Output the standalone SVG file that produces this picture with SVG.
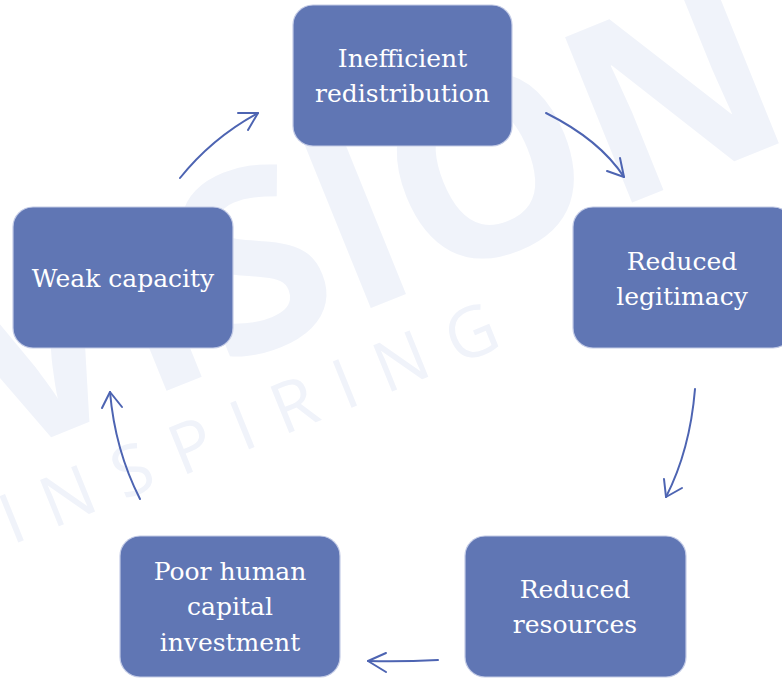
<svg xmlns="http://www.w3.org/2000/svg" width="782" height="679" viewBox="0 0 782 679">
<defs>
<style>
.wm{fill:#f0f3fa;font-family:"Open Sans","DejaVu Sans",sans-serif}
.box{fill:#6076b4;stroke:#c3cbe6;stroke-width:1.2}
.lbl{fill:#ffffff;font-family:"DejaVu Serif","Liberation Serif",serif;font-size:25px;text-anchor:middle}
.con{fill:none;stroke:#4d64b2;stroke-width:2;stroke-linecap:round;stroke-linejoin:round}
</style>
</defs>
<rect width="782" height="679" fill="#ffffff"/>
<g id="watermark">
<text class="wm" x="-5" y="460" font-size="250" font-weight="bold" transform="rotate(-22 -5 460)">VISION</text>
<text class="wm" x="12" y="545" font-size="70" letter-spacing="24" transform="rotate(-22 12 545)">INSPIRING</text>
</g>
<g id="connectors">
<path class="con" d="M180,178 Q212,138 258,113"/>
<path class="con" d="M238,113 L258,113 L248,130"/>
<path class="con" d="M546,113 Q600,140 624,177"/>
<path class="con" d="M607,171 L624,177 L620,158"/>
<path class="con" d="M695,389 Q690,450 666,497"/>
<path class="con" d="M664,479 L666,497 L682,488"/>
<path class="con" d="M438,660 Q400,662 368,661"/>
<path class="con" d="M386,653 L368,661 L386,672"/>
<path class="con" d="M140,499 Q115,450 110,392"/>
<path class="con" d="M102,408 L110,392 L122,407"/>
</g>
<g id="node-inefficient">
<rect class="box" x="293" y="5" width="219" height="141" rx="20"/>
<text class="lbl" x="402.5" y="67">Inefficient</text>
<text class="lbl" x="402.5" y="102">redistribution</text>
</g>
<g id="node-legitimacy">
<rect class="box" x="573" y="207" width="220" height="141" rx="20"/>
<text class="lbl" x="682" y="270">Reduced</text>
<text class="lbl" x="682" y="305">legitimacy</text>
</g>
<g id="node-resources">
<rect class="box" x="465" y="536" width="221" height="141" rx="20"/>
<text class="lbl" x="575" y="598">Reduced</text>
<text class="lbl" x="575" y="633">resources</text>
</g>
<g id="node-human">
<rect class="box" x="120" y="536" width="220" height="141" rx="20"/>
<text class="lbl" x="230" y="580">Poor human</text>
<text class="lbl" x="230" y="615">capital</text>
<text class="lbl" x="230" y="651">investment</text>
</g>
<g id="node-weak">
<rect class="box" x="13" y="207" width="220" height="141" rx="20"/>
<text class="lbl" x="123" y="287">Weak capacity</text>
</g>
</svg>
